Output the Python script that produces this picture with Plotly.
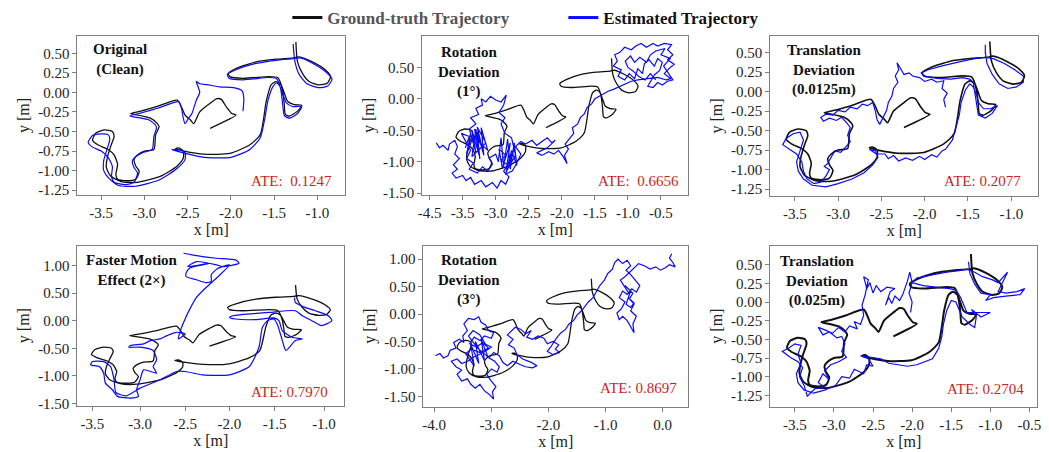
import plotly.graph_objects as go

FONT = "Liberation Serif, Times New Roman, serif"

# ---------------- DATA ----------------
panel_titles = ["Original<br>(Clean)", "Rotation<br>Deviation<br>(1°)", "Translation<br>Deviation<br>(0.0125m)",
                "Faster Motion<br>Effect (2×)", "Rotation<br>Deviation<br>(3°)", "Translation<br>Deviation<br>(0.025m)"]
ate_labels = ["ATE:\u00a0 0.1247", "ATE:\u00a0 0.6656", "ATE: 0.2077", "ATE: 0.7970", "ATE: 0.8697", "ATE: 0.2704"]
legend_names = ["Ground-truth Trajectory", "Estimated Trajectory"]

# ground-truth trajectory (same in every panel)
gt_xy = [(-2.24,-0.46),(-1.94,-0.29),(-1.99,-0.27),(-2.05,-0.19),(-2.11,-0.09),(-2.16,-0.08),(-2.24,-0.14),
         (-2.36,-0.25),(-2.43,-0.40),(-2.47,-0.35),(-2.53,-0.29),(-2.57,-0.19),(-2.62,-0.10),(-2.85,-0.18),
         (-3.04,-0.24),(-3.16,-0.27),(-3.12,-0.28),(-2.93,-0.33),(-2.85,-0.40),(-2.83,-0.44),(-2.87,-0.54),
         (-2.89,-0.73),(-3.00,-0.75),(-3.08,-0.80),(-3.12,-0.86),(-3.10,-0.94),(-3.06,-1.01),(-3.10,-1.11),
         (-3.20,-1.13),(-3.31,-1.11),(-3.33,-1.05),(-3.31,-0.92),(-3.35,-0.80),(-3.42,-0.73),(-3.54,-0.67),
         (-3.60,-0.61),(-3.56,-0.52),(-3.46,-0.48),(-3.37,-0.50),(-3.35,-0.56),(-3.39,-0.69),(-3.43,-0.84),
         (-3.44,-0.96),(-3.39,-1.07),(-3.27,-1.14),(-3.08,-1.15),(-2.81,-1.07),(-2.62,-0.94),(-2.55,-0.84),
         (-2.55,-0.75),(-2.60,-0.71),(-2.64,-0.72),(-2.54,-0.75),(-2.31,-0.79),(-2.01,-0.78),(-1.78,-0.67),
         (-1.66,-0.54),(-1.59,-0.11),(-1.535,0.096),(-1.477,0.138),(-1.42,0.096),(-1.382,-0.009),(-1.344,-0.114),
         (-1.267,-0.156),(-1.18,-0.165),(-1.229,-0.24),(-1.324,-0.303),(-1.37,-0.282),(-1.382,-0.156),
         (-1.401,0.012),(-1.431,0.138),(-1.458,0.189),(-1.554,0.201),(-1.859,0.18),(-2.011,0.201),
         (-2.03,0.243),(-1.935,0.306),(-1.706,0.39),(-1.477,0.424),(-1.267,0.441),(-1.21,0.454),(-1.057,0.39),
         (-0.905,0.285),(-0.847,0.201),(-0.886,0.117),(-0.981,0.096),(-1.095,0.138),(-1.172,0.243),
         (-1.229,0.39),(-1.248,0.643)]

est_clean_xy = [(-1.86,-0.24),(-1.85,-0.08),(-1.87,0.02),(-1.97,0.06),(-2.13,0.07),(-2.28,0.10),(-2.36,0.11),
         (-2.40,0.14),(-2.36,0.00),(-2.40,-0.10),(-2.42,-0.17),(-2.45,-0.27),(-2.49,-0.33),(-2.53,-0.40),
         (-2.55,-0.33),(-2.57,-0.21),(-2.60,-0.12),(-2.84,-0.20),(-3.03,-0.26),(-3.17,-0.30),(-3.14,-0.31),
         (-2.95,-0.35),(-2.87,-0.42),(-2.86,-0.46),(-2.89,-0.56),(-2.91,-0.73),(-3.02,-0.77),(-3.10,-0.82),
         (-3.14,-0.88),(-3.12,-0.96),(-3.08,-1.03),(-3.12,-1.15),(-3.22,-1.18),(-3.35,-1.15),(-3.38,-1.07),
         (-3.37,-0.95),(-3.42,-0.83),(-3.50,-0.75),(-3.60,-0.70),(-3.65,-0.64),(-3.60,-0.55),(-3.50,-0.53),
         (-3.42,-0.54),(-3.40,-0.60),(-3.43,-0.72),(-3.47,-0.87),(-3.47,-1.00),(-3.41,-1.10),(-3.30,-1.19),
         (-3.10,-1.20),(-2.83,-1.12),(-2.63,-0.98),(-2.53,-0.86),(-2.53,-0.77),(-2.58,-0.74),(-2.68,-0.73),
         (-2.56,-0.77),(-2.30,-0.83),(-2.00,-0.83),(-1.78,-0.73),(-1.66,-0.58),(-1.61,-0.35),(-1.57,-0.10),
         (-1.51,0.08),(-1.47,0.12),(-1.43,0.07),(-1.40,-0.02),(-1.36,-0.13),(-1.29,-0.18),(-1.18,-0.18),
         (-1.23,-0.27),(-1.32,-0.33),(-1.38,-0.30),(-1.40,-0.16),(-1.42,0.02),(-1.45,0.14),(-1.48,0.18),
         (-1.56,0.19),(-1.86,0.16),(-2.02,0.18),(-2.04,0.23),(-1.94,0.29),(-1.71,0.37),(-1.48,0.41),
         (-1.28,0.43),(-1.20,0.44),(-1.05,0.37),(-0.90,0.26),(-0.83,0.17),(-0.88,0.08),(-0.99,0.06),
         (-1.12,0.11),(-1.21,0.23),(-1.26,0.40),(-1.28,0.62)]

est_rot1_xy = [(-3.90,-0.70),(-3.85,-0.78),(-3.80,-0.74),(-3.72,-0.82),(-3.70,-0.72),(-3.62,-0.66),(-3.58,-0.76),
         (-3.62,-0.88),(-3.55,-0.95),(-3.64,-1.05),(-3.58,-1.12),(-3.66,-1.18),(-3.60,-1.26),(-3.50,-1.22),
         (-3.45,-1.30),(-3.38,-1.25),(-3.32,-1.36),(-3.22,-1.30),(-3.15,-1.40),(-3.05,-1.33),(-2.98,-1.42),
         (-2.92,-1.30),(-2.85,-1.36),(-2.80,-1.24),(-2.88,-1.15),(-2.82,-1.05),(-2.92,-0.98),(-2.85,-0.90),
         (-2.95,-0.80),(-2.90,-1.10),(-2.78,-0.70),(-2.84,-1.12),(-2.72,-0.78),(-2.80,-1.08),(-2.70,-0.90),
         (-2.76,-0.62),(-2.86,-0.55),(-2.92,-0.40),(-2.86,-0.30),(-2.95,-0.22),(-2.88,-0.10),(-2.84,0.06),
         (-2.92,-0.05),(-3.00,-0.02),(-3.08,0.04),(-3.15,-0.05),(-3.22,0.00),(-3.20,-0.10),(-3.30,-0.15),
         (-3.26,-0.25),(-3.38,-0.30),(-3.30,-0.40),(-3.40,-0.48),(-3.30,-0.85),(-3.36,-0.50),(-3.25,-0.90),
         (-3.32,-0.48),(-3.20,-0.80),(-3.28,-0.45),(-3.15,-0.70),(-3.36,-0.92),(-3.30,-0.48),(-3.24,-0.96),
         (-3.28,-0.52),(-3.18,-0.90),(-3.22,-0.46),(-3.12,-0.82),(-3.34,-0.60),(-3.44,-0.88),(-3.38,-0.56),
         (-3.46,-0.78),(-3.40,-0.60),(-3.52,-0.55),(-3.45,-0.68),
         (-3.38,-0.82),(-3.44,-0.95),(-3.34,-1.02),(-3.40,-1.12),(-3.28,-1.18),(-3.20,-1.08),(-3.12,-1.15),
         (-3.05,-1.04),(-3.10,-0.94),(-3.00,-0.88),(-2.96,-1.00),(-2.92,-0.62),(-2.88,-1.08),(-2.82,-0.64),
         (-2.78,-1.12),(-2.72,-0.70),(-2.68,-1.06),(-2.76,-0.82),(-2.84,-1.16),(-2.74,-0.96),
         (-2.86,-1.20),(-2.75,-1.15),(-2.68,-1.02),
         (-2.62,-0.88),(-2.70,-0.76),(-2.62,-0.68),(-2.55,-0.72),(-2.45,-0.66),(-2.38,-0.74),(-2.30,-0.68),
         (-2.22,-0.62),(-2.15,-0.70),(-2.10,-0.66),(-2.22,-0.78),(-2.38,-0.86),(-2.30,-0.90),(-2.20,-0.84),
         (-2.12,-0.88),(-2.05,-0.82),(-1.98,-0.92),(-1.92,-1.03),(-1.96,-0.90),(-1.90,-0.80),(-1.95,-0.72),
         (-1.88,-0.62),(-1.82,-0.55),(-1.84,-0.46),(-1.76,-0.40),(-1.72,-0.30),(-1.66,-0.24),(-1.62,-0.14),
         (-1.55,-0.08),(-1.50,0.00),(-1.44,0.04),(-1.38,0.08),(-1.30,0.12),(-1.22,0.15),(-1.12,0.20),
         (-1.02,0.24),(-0.95,0.28),(-0.85,0.30),(-0.70,0.32),(-0.55,0.34),(-0.42,0.30),(-0.35,0.32),
         (-0.45,0.40),(-0.38,0.48),(-0.30,0.55),(-0.40,0.62),(-0.32,0.70),(-0.40,0.78),(-0.34,0.86),
         (-0.45,0.88),(-0.55,0.84),(-0.62,0.88),(-0.72,0.82),(-0.80,0.88),(-0.88,0.84),(-0.95,0.78),
         (-1.05,0.82),(-1.12,0.74),(-1.20,0.70),(-1.16,0.60),(-1.22,0.52),(-1.10,0.46),(-1.15,0.36),
         (-1.05,0.30),(-0.98,0.40),(-0.90,0.32),(-0.85,0.48),(-0.78,0.40),(-0.75,0.56),(-0.68,0.62),
         (-0.60,0.52),(-0.55,0.64),(-0.48,0.58),(-0.52,0.45),(-0.60,0.38),(-0.70,0.20),(-0.62,0.18),
         (-0.55,0.26),(-0.48,0.22),(-0.40,0.28),(-0.32,0.30),(-0.38,0.40),(-0.46,0.52),(-0.36,0.64),
         (-0.50,0.70),(-0.44,0.80),(-0.58,0.76),(-0.66,0.70),(-0.72,0.58),(-0.82,0.66),(-0.90,0.58),
         (-0.96,0.68),(-1.04,0.60),(-1.00,0.50),(-0.92,0.44),(-0.84,0.36),(-0.74,0.30),(-0.66,0.40),
         (-0.58,0.30)]

est_trans1_xy = [(-1.76,-0.20),(-1.78,-0.10),(-1.74,-0.02),(-1.80,0.04),(-1.78,0.14),(-1.86,0.12),(-1.92,0.16),
         (-2.00,0.13),(-2.06,0.18),(-2.14,0.20),(-2.18,0.24),(-2.24,0.22),(-2.28,0.30),(-2.32,0.37),
         (-2.30,0.28),(-2.34,0.20),(-2.31,0.12),(-2.36,0.04),(-2.38,-0.06),(-2.42,-0.14),(-2.44,-0.24),
         (-2.48,-0.34),(-2.52,-0.42),(-2.55,-0.36),(-2.57,-0.25),(-2.60,-0.14),(-2.66,-0.18),(-2.72,-0.16),
         (-2.78,-0.22),(-2.86,-0.20),(-2.92,-0.26),(-3.00,-0.24),(-3.06,-0.30),(-3.14,-0.29),(-3.20,-0.33),
         (-3.17,-0.38),(-3.10,-0.34),(-3.02,-0.37),(-2.96,-0.33),(-2.90,-0.40),(-2.86,-0.46),(-2.89,-0.56),
         (-2.86,-0.64),(-2.92,-0.72),(-2.97,-0.78),(-3.04,-0.76),(-3.08,-0.84),(-3.12,-0.92),(-3.16,-0.96),
         (-3.10,-1.00),(-3.14,-1.08),(-3.20,-1.16),(-3.28,-1.18),(-3.36,-1.12),(-3.40,-1.02),(-3.42,-0.90),
         (-3.48,-0.80),(-3.56,-0.74),(-3.64,-0.68),(-3.60,-0.60),(-3.52,-0.54),(-3.44,-0.52),(-3.40,-0.62),
         (-3.44,-0.76),(-3.48,-0.90),(-3.46,-1.02),(-3.40,-1.12),(-3.30,-1.20),(-3.14,-1.22),(-3.00,-1.18),
         (-2.84,-1.12),(-2.70,-1.04),(-2.60,-0.94),(-2.54,-0.84),(-2.57,-0.76),(-2.64,-0.74),(-2.56,-0.80),
         (-2.46,-0.80),(-2.42,-0.86),(-2.36,-0.82),(-2.30,-0.89),(-2.22,-0.85),(-2.14,-0.88),(-2.06,-0.83),
         (-2.00,-0.87),(-1.92,-0.81),(-1.86,-0.84),(-1.80,-0.76),(-1.76,-0.74),(-1.68,-0.62),
         (-1.64,-0.46),(-1.60,-0.30),(-1.58,-0.14),(-1.53,0.02),(-1.48,0.10),(-1.44,0.06),(-1.40,-0.04),
         (-1.38,-0.14),(-1.32,-0.22),(-1.24,-0.22),(-1.16,-0.18),(-1.22,-0.28),(-1.30,-0.34),(-1.38,-0.30),
         (-1.40,-0.16),(-1.42,0.00),(-1.44,0.12),(-1.48,0.16),(-1.56,0.18),(-1.70,0.16),(-1.86,0.17),
         (-2.00,0.20),(-2.04,0.24),(-1.96,0.28),(-1.80,0.33),(-1.60,0.38),(-1.44,0.42),(-1.30,0.44),
         (-1.20,0.42),(-1.08,0.36),(-0.96,0.28),(-0.86,0.20),(-0.86,0.12),(-0.94,0.06),(-1.04,0.04),
         (-1.14,0.10),(-1.22,0.22),(-1.28,0.36),(-1.30,0.50),(-1.30,0.60)]

est_fast_xy = [(-2.54,1.22),(-2.32,1.16),(-2.16,1.13),(-1.94,1.10),(-1.90,1.04),(-2.09,0.98),(-2.16,1.01),
         (-2.39,1.07),(-2.49,0.98),(-2.35,1.01),(-2.24,1.04),(-2.32,1.01),(-2.47,0.95),(-2.51,0.86),
         (-2.51,0.80),(-2.39,0.74),(-2.28,0.69),(-2.22,0.71),(-2.22,0.83),(-2.15,0.94),(-2.01,1.01),
         (-2.14,0.80),(-2.28,0.60),(-2.39,0.42),(-2.47,0.20),(-2.53,0.00),(-2.58,-0.20),(-2.60,-0.33),
         (-2.52,-0.24),(-2.62,-0.21),(-2.73,-0.27),(-2.81,-0.33),(-2.92,-0.36),(-3.00,-0.42),(-3.15,-0.45),
         (-3.17,-0.48),(-3.04,-0.48),(-2.89,-0.54),(-2.85,-0.71),(-2.89,-0.83),(-2.85,-0.95),(-3.00,-0.89),
         (-3.04,-1.07),(-3.08,-1.25),(-3.06,-1.37),(-3.15,-1.40),(-3.30,-1.37),(-3.36,-1.25),(-3.44,-1.13),
         (-3.46,-0.95),(-3.51,-0.83),(-3.61,-0.80),(-3.59,-0.74),(-3.46,-0.74),(-3.38,-0.83),(-3.34,-1.07),
         (-3.32,-1.30),(-3.20,-1.36),(-3.04,-1.22),(-2.81,-1.07),(-2.62,-0.92),(-2.52,-0.92),(-2.32,-0.98),
         (-2.01,-0.98),(-1.78,-0.83),(-1.67,-0.48),(-1.63,-0.12),(-1.57,0.00),(-1.50,0.03),(-1.46,-0.06),
         (-1.40,-0.36),(-1.36,-0.54),(-1.25,-0.36),(-1.17,-0.33),(-1.29,-0.30),(-1.40,-0.18),(-1.44,0.00),
         (-1.50,0.05),(-1.70,0.02),(-1.94,0.03),(-2.01,0.06),(-1.97,0.09),(-1.55,0.15),(-1.25,0.18),
         (-1.17,0.09),(-1.06,0.00),(-0.95,-0.09),(-0.83,0.00),(-0.87,0.09),(-1.02,0.18),(-1.14,0.24),
         (-1.25,0.33),(-1.26,0.42)]

est_rot3_xy = [(-3.98,-0.76),(-3.90,-0.72),(-3.84,-0.80),(-3.76,-0.76),(-3.72,-0.66),(-3.62,-0.62),(-3.66,-0.52),
         (-3.56,-0.46),(-3.48,-0.52),(-3.50,-0.40),(-3.42,-0.30),(-3.48,-0.18),(-3.40,-0.08),(-3.30,-0.10),
         (-3.22,-0.05),(-3.18,-0.15),(-3.10,-0.20),(-3.05,-0.30),(-2.96,-0.34),(-3.00,-0.44),(-3.12,-0.40),
         (-3.20,-0.48),(-3.30,-0.42),(-3.38,-0.54),(-3.26,-0.60),(-3.15,-0.52),(-3.05,-0.62),(-3.20,-0.70),
         (-3.35,-0.64),(-3.45,-0.72),(-3.30,-0.95),(-3.36,-0.55),(-3.22,-0.90),(-3.28,-0.50),(-3.12,-0.85),
         (-3.18,-0.45),(-3.06,-0.78),(-3.24,-0.62),(-3.40,-0.40),(-3.32,-0.30),(-3.20,-0.38),(-3.10,-0.55),
         (-3.00,-0.60),(-3.14,-0.70),(-3.34,-0.80),
         (-3.40,-0.85),(-3.52,-0.90),(-3.60,-0.82),(-3.70,-0.86),(-3.62,-0.96),
         (-3.52,-1.02),(-3.60,-1.10),(-3.52,-1.22),(-3.42,-1.18),(-3.36,-1.28),(-3.28,-1.35),(-3.20,-1.28),
         (-3.12,-1.40),(-3.04,-1.46),(-2.96,-1.55),(-2.98,-1.42),(-2.92,-1.32),(-3.00,-1.22),(-3.08,-1.10),
         (-3.00,-1.00),(-2.90,-1.06),(-2.86,-0.96),(-2.94,-0.86),(-3.04,-0.80),(-2.96,-0.70),(-2.86,-0.76),
         (-2.80,-0.88),(-2.72,-0.94),(-2.62,-0.86),(-2.50,-0.92),(-2.40,-0.96),(-2.28,-0.98),(-2.20,-0.94),
         (-2.30,-0.88),(-2.45,-0.82),(-2.55,-0.74),(-2.60,-0.62),(-2.70,-0.56),(-2.62,-0.46),(-2.72,-0.38),
         (-2.64,-0.30),(-2.58,-0.24),(-2.48,-0.28),(-2.40,-0.36),(-2.30,-0.30),(-2.38,-0.42),(-2.28,-0.46),
         (-2.18,-0.40),(-2.08,-0.44),(-2.02,-0.54),(-1.92,-0.50),(-1.82,-0.56),(-1.88,-0.64),(-1.80,-0.70),
         (-1.92,-0.74),(-2.02,-0.68),(-1.96,-0.60),(-1.86,-0.44),(-1.78,-0.34),(-1.70,-0.28),(-1.64,-0.18),
         (-1.56,-0.12),(-1.50,-0.02),(-1.42,0.06),(-1.36,0.14),(-1.30,0.22),(-1.22,0.30),(-1.16,0.40),
         (-1.10,0.52),(-1.02,0.62),(-0.96,0.74),(-0.88,0.82),(-0.84,0.94),(-0.78,1.00),(-0.70,0.92),
         (-0.62,0.98),(-0.56,0.88),(-0.64,0.80),(-0.56,0.72),(-0.48,0.62),(-0.40,0.52),(-0.46,0.40),
         (-0.54,0.46),(-0.62,0.36),(-0.70,0.42),(-0.76,0.30),(-0.66,0.22),(-0.72,0.10),(-0.80,0.02),
         (-0.76,-0.10),(-0.70,-0.04),(-0.62,-0.12),(-0.56,-0.22),(-0.50,-0.34),(-0.52,-0.18),(-0.46,-0.04),
         (-0.56,0.06),(-0.50,0.18),(-0.60,0.30),(-0.56,0.42),(-0.66,0.52),(-0.60,0.46),(-0.52,0.38),
         (-0.58,0.28),(-0.50,0.20),(-0.56,0.12),(-0.64,0.18),(-0.58,0.36),(-0.74,0.62),(-0.66,0.68),
         (-0.58,0.76),(-0.50,0.84),(-0.42,0.92),(-0.32,0.88),(-0.22,0.82),(-0.12,0.86),(-0.04,0.80),
         (0.04,0.84),(0.12,0.90),(0.22,0.86),(0.18,0.94),(0.12,1.02),(0.16,1.10)]

est_trans2_xy = [(-2.02,-0.14),(-2.00,0.00),(-2.04,0.12),(-2.00,0.26),(-2.03,0.40),(-2.06,0.28),(-2.12,0.10),
         (-2.16,0.02),(-2.22,0.08),(-2.26,-0.02),(-2.30,0.06),(-2.34,-0.04),(-2.28,0.14),(-2.22,0.18),
         (-2.32,0.20),(-2.40,0.14),(-2.46,0.22),(-2.50,0.12),(-2.54,0.26),(-2.58,0.18),(-2.62,0.34),
         (-2.56,0.30),(-2.60,0.10),(-2.64,-0.04),(-2.62,-0.18),(-2.66,-0.30),(-2.74,-0.26),(-2.70,-0.36),
         (-2.80,-0.32),(-2.86,-0.40),(-2.94,-0.34),(-3.02,-0.42),(-3.10,-0.38),(-3.20,-0.34),(-3.14,-0.44),
         (-3.06,-0.40),(-2.96,-0.48),(-2.90,-0.46),(-2.86,-0.56),(-2.90,-0.66),(-2.84,-0.74),(-2.94,-0.80),
         (-3.04,-0.84),(-3.12,-0.92),(-3.06,-1.04),(-3.14,-0.96),(-3.20,-1.08),(-3.12,-1.14),(-3.24,-1.16),
         (-3.34,-1.26),(-3.38,-1.12),(-3.44,-1.00),(-3.40,-0.88),(-3.46,-0.80),(-3.56,-0.74),(-3.66,-0.66),
         (-3.58,-0.62),(-3.50,-0.56),(-3.42,-0.58),(-3.46,-0.70),(-3.42,-0.82),(-3.48,-0.96),(-3.46,-1.08),
         (-3.38,-1.18),(-3.26,-1.22),(-3.12,-1.18),(-2.98,-1.12),(-2.90,-1.00),(-2.80,-1.02),(-2.74,-0.90),
         (-2.62,-0.96),(-2.58,-0.84),(-2.50,-0.86),(-2.56,-0.76),(-2.66,-0.72),(-2.40,-0.76),(-2.30,-0.82),
         (-2.18,-0.84),(-2.06,-0.86),(-1.94,-0.84),(-1.84,-0.80),(-1.74,-0.76),(-1.66,-0.62),(-1.62,-0.46),
         (-1.60,-0.30),(-1.56,-0.12),(-1.50,0.02),(-1.44,0.00),(-1.40,-0.10),(-1.36,-0.20),(-1.26,-0.30),
         (-1.20,-0.34),(-1.18,-0.20),(-1.24,-0.10),(-1.12,-0.20),(-1.00,-0.14),(-1.30,-0.14),(-1.38,0.06),
         (-1.44,0.16),(-1.52,0.18),(-1.70,0.20),(-1.86,0.22),(-2.00,0.26),(-1.94,0.32),(-1.76,0.36),
         (-1.56,0.40),(-1.40,0.42),(-1.30,0.44),(-1.20,0.40),(-1.10,0.34),(-0.98,0.30),(-0.90,0.26),
         (-0.78,0.40),(-0.86,0.22),(-0.90,0.14),(-0.80,0.12),(-0.66,0.14),(-0.56,0.18),(-0.62,0.10),
         (-0.80,0.08),(-0.96,0.06),(-1.06,0.02),(-1.00,0.10),(-1.12,0.12),(-1.20,0.24),(-1.26,0.38),
         (-1.28,0.54)]

est_sets = [est_clean_xy, est_rot1_xy, est_trans1_xy, est_fast_xy, est_rot3_xy, est_trans2_xy]

# tick labels per panel
x_tick_vals = [[-3.5,-3.0,-2.5,-2.0,-1.5,-1.0],
               [-4.0,-3.5,-3.0,-2.5,-2.0,-1.5,-1.0,-0.5],
               [-3.5,-3.0,-2.5,-2.0,-1.5,-1.0],
               [-3.59,-3.04,-2.52,-2.01,-1.49,-0.92],
               [-4.0,-3.0,-2.0,-1.0,0.0],
               [-3.5,-3.0,-2.5,-2.0,-1.5,-1.0,-0.5]]
x_tick_text = [["-3.5","-3.0","-2.5","-2.0","-1.5","-1.0"],
               ["-4.5","-3.5","-3.0","-2.5","-2.0","-1.5","-1.0","-0.5"],
               ["-3.5","-3.0","-2.5","-2.0","-1.5","-1.0"],
               ["-3.5","-3.0","-2.5","-2.0","-1.5","-1.0"],
               ["-4.0","-3.0","-2.0","-1.0","0.0"],
               ["-3.5","-3.0","-2.5","-2.0","-1.5","-1.0","-0.5"]]
y_q_vals = [0.5,0.25,0.0,-0.25,-0.5,-0.75,-1.0,-1.25]
y_q_text = ["0.50","0.25","0.00","-0.25","-0.50","-0.75","-1.00","-1.25"]
y_h_vals = [1.0,0.5,0.0,-0.5,-1.0,-1.5]
y_h_text = ["1.00","0.50","0.00","-0.50","-1.00","-1.50"]
y_tick_vals = [y_q_vals, y_h_vals[1:], y_q_vals, y_h_vals, y_h_vals, y_q_vals]
y_tick_text = [y_q_text, y_h_text[1:], y_q_text, y_h_text, y_h_text, y_q_text]

# ---------------- LAYOUT ----------------
x_domains = [[0.0696,0.3270],[0.4013,0.6568],[0.7359,0.9933],[0.0696,0.3260],[0.4023,0.6568],[0.7359,0.9924]]
y_domains = [[0.5619,0.9204],[0.5619,0.9204],[0.5597,0.9204],[0.0907,0.4491],[0.0885,0.4491],[0.0885,0.4491]]
x_ranges = [[-3.775,-0.679],[-4.11,-0.09],[-3.783,-0.691],[-3.763,-0.689],[-4.19,0.446],[-3.813,-0.402]]
y_ranges = [[-1.317,0.727],[-1.536,1.007],[-1.343,0.719],[-1.536,1.357],[-1.685,1.246],[-1.40,0.755]]
gt_widths = [1.3, 1.3, 1.6, 1.3, 1.3, 2.0]
title_pos = [(0.159,0.975),(0.175,0.957),(0.204,0.975),(0.204,0.975),(0.172,0.975),(0.178,0.97)]
ate_pos = [(0.959,0.093),(0.974,0.093),(0.944,0.098),(0.948,0.086),(0.966,0.117),(0.959,0.110)]

fig = go.Figure()
# legend-only entries (thicker sample lines, no data)
fig.add_trace(go.Scatter(x=[None], y=[None], mode="lines", line=dict(color="#111111", width=3),
                         name="<b><span style='color:#555'>" + legend_names[0] + "</span></b>", showlegend=True))
fig.add_trace(go.Scatter(x=[None], y=[None], mode="lines", line=dict(color="#0a0aff", width=3),
                         name="<b>" + legend_names[1] + "</b>", showlegend=True))

layout = dict(width=1049, height=452, margin=dict(l=0, r=0, t=0, b=0),
              paper_bgcolor="white", plot_bgcolor="white",
              font=dict(family=FONT, size=15, color="#222"),
              showlegend=True,
              legend=dict(orientation="h", x=0.2715, xanchor="left", y=1.0, yanchor="top",
                          font=dict(family=FONT, size=17, color="#111"), itemwidth=30,
                          bgcolor="rgba(0,0,0,0)", tracegroupgap=0, entrywidth=231, entrywidthmode="pixels"))
annotations = []
for i in range(6):
    sfx = "" if i == 0 else str(i + 1)
    xa, ya = "x" + sfx, "y" + sfx
    gx = [p[0] for p in gt_xy]
    gy = [p[1] for p in gt_xy]
    ex = [p[0] for p in est_sets[i]]
    ey = [p[1] for p in est_sets[i]]
    fig.add_trace(go.Scatter(x=gx, y=gy, mode="lines", xaxis=xa, yaxis=ya,
                             line=dict(color="#111111", width=gt_widths[i], shape="spline", smoothing=0.6),
                             name=legend_names[0], showlegend=False, hoverinfo="skip"))
    fig.add_trace(go.Scatter(x=ex, y=ey, mode="lines", xaxis=xa, yaxis=ya,
                             line=dict(color="#0a0aff", width=1.2,
                                       shape=("spline" if i in (0, 3) else "linear"), smoothing=0.6),
                             name=legend_names[1], showlegend=False, hoverinfo="skip"))
    axis_common = dict(showline=True, mirror=True, linecolor="#808080", linewidth=1,
                       ticks="outside", ticklen=4, tickcolor="#808080", showgrid=False, zeroline=False,
                       tickfont=dict(family=FONT, size=15, color="#222"))
    layout["xaxis" + sfx] = dict(domain=x_domains[i], range=x_ranges[i], anchor=ya,
                                 tickmode="array", tickvals=x_tick_vals[i], ticktext=x_tick_text[i],
                                 title=dict(text="x [m]", standoff=0, font=dict(family=FONT, size=16, color="#222")),
                                 **axis_common)
    layout["yaxis" + sfx] = dict(domain=y_domains[i], range=y_ranges[i], anchor=xa,
                                 tickmode="array", tickvals=y_tick_vals[i], ticktext=y_tick_text[i],
                                 title=dict(text="y [m]", standoff=4, font=dict(family=FONT, size=16, color="#222")),
                                 **axis_common)
    tx, ty = title_pos[i]
    annotations.append(dict(text="<b>" + panel_titles[i] + "</b>", xref=xa + " domain", yref=ya + " domain",
                            x=tx, y=ty, xanchor="center", yanchor="top", showarrow=False, align="center",
                            font=dict(family=FONT, size=15, color="#111")))
    axp, ayp = ate_pos[i]
    annotations.append(dict(text=ate_labels[i], xref=xa + " domain", yref=ya + " domain",
                            x=axp, y=ayp, xanchor="right", yanchor="middle", showarrow=False,
                            font=dict(family=FONT, size=15, color="#cc1f1f")))
layout["annotations"] = annotations
fig.update_layout(**layout)
fig.write_html("out.html", config={"displayModeBar": False},
               post_script="document.body.style.margin='0px';")
